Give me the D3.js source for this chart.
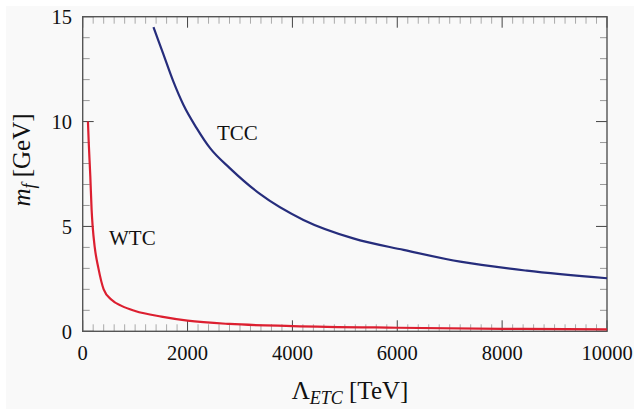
<!DOCTYPE html>
<html>
<head>
<meta charset="utf-8">
<script src="https://cdn.jsdelivr.net/npm/d3@7"></script>
<style>
  body { margin: 0; background: #fff; }
  text { font-family: "Liberation Serif", serif; fill: #111; }
</style>
</head>
<body>
<svg id="chart" width="634" height="409"></svg>
<script>
// values
var lambdaTCC = [1350, 1540, 1730, 1920, 2170, 2430, 2810, 3380, 4210, 5160, 6120, 7200, 8470, 10000]
var massTCC   = [14.5, 13.2, 11.9, 10.8, 9.7, 8.73, 7.77, 6.55, 5.31, 4.43, 3.88, 3.32, 2.89, 2.53]
var lambdaWTC = [100, 115, 145, 170, 190, 230, 300, 400, 550, 750, 1000, 1500, 2000, 2800, 4000, 6000, 8000, 10000]
var massWTC   = [10, 9, 7.4, 5.8, 5, 4, 3, 2, 1.5, 1.2, 0.97, 0.7, 0.51, 0.35, 0.25, 0.17, 0.12, 0.09]
var xTicks = [0, 2000, 4000, 6000, 8000, 10000]
var yTicks = [0, 5, 10, 15]

var svg = d3.select('#chart')
var pL = 82.7, pR = 607, pT = 16.7, pB = 331.3

svg.append('rect').attr('x', 6).attr('y', 6).attr('width', 628).attr('height', 403).attr('fill', '#f9f9f9')

var x = d3.scaleLinear().domain([0, 10000]).range([pL, pR])
var y = d3.scaleLinear().domain([0, 15]).range([pB, pT])

// minor ticks (all four sides, pointing inward)
var xMinor = d3.range(0, 10001, 200).filter(function(d){ return d % 2000 != 0 })
var yMinor = d3.range(0, 16, 1).filter(function(d){ return d % 5 != 0 })
var g = svg.append('g')
xMinor.forEach(function(d){
    g.append('line').attr('x1', x(d)).attr('x2', x(d)).attr('y1', pB).attr('y2', pB - 7).attr('stroke', '#aaa').attr('stroke-width', 1)
    g.append('line').attr('x1', x(d)).attr('x2', x(d)).attr('y1', pT).attr('y2', pT + 7).attr('stroke', '#aaa').attr('stroke-width', 1)
})
yMinor.forEach(function(d){
    g.append('line').attr('x1', pL).attr('x2', pL + 7).attr('y1', y(d)).attr('y2', y(d)).attr('stroke', '#999').attr('stroke-width', 1)
    g.append('line').attr('x1', pR).attr('x2', pR - 7).attr('y1', y(d)).attr('y2', y(d)).attr('stroke', '#999').attr('stroke-width', 1)
})
xTicks.forEach(function(d){
    g.append('line').attr('x1', x(d)).attr('x2', x(d)).attr('y1', pB).attr('y2', pB - 11).attr('stroke', '#444').attr('stroke-width', 1)
    g.append('line').attr('x1', x(d)).attr('x2', x(d)).attr('y1', pT).attr('y2', pT + 11).attr('stroke', '#444').attr('stroke-width', 1)
    g.append('text').attr('x', x(d)).attr('y', 360).attr('text-anchor', 'middle').style('font-size', '20.5px').text(d)
})
yTicks.forEach(function(d){
    g.append('line').attr('x1', pL).attr('x2', pL + 11).attr('y1', y(d)).attr('y2', y(d)).attr('stroke', '#444').attr('stroke-width', 1)
    g.append('line').attr('x1', pR).attr('x2', pR - 11).attr('y1', y(d)).attr('y2', y(d)).attr('stroke', '#444').attr('stroke-width', 1)
    g.append('text').attr('x', 72).attr('y', y(d) + 7.5).attr('text-anchor', 'end').style('font-size', '20.5px').text(d)
})

// frame
svg.append('rect').attr('x', pL).attr('y', pT).attr('width', pR - pL).attr('height', pB - pT)
    .attr('fill', 'none').attr('stroke', '#555').attr('stroke-width', 1.4)

// curves
var line = d3.line().x(function(d){ return x(d[0]) }).y(function(d){ return y(d[1]) }).curve(d3.curveMonotoneX)
svg.append('path').datum(d3.zip(lambdaTCC, massTCC)).attr('d', line)
    .attr('fill', 'none').attr('stroke', '#262d7c').attr('stroke-width', 2.2)
svg.append('path').datum(d3.zip(lambdaWTC, massWTC)).attr('d', line)
    .attr('fill', 'none').attr('stroke', '#dc1f30').attr('stroke-width', 2.2)

svg.append('text').attr('x', 217).attr('y', 140).style('font-size', '21px').text('TCC')
svg.append('text').attr('x', 109).attr('y', 245).style('font-size', '21px').text('WTC')

// axis titles
var xl = svg.append('text').attr('x', 350).attr('y', 399).attr('text-anchor', 'middle').style('font-size', '25px')
xl.append('tspan').text('Λ')
xl.append('tspan').attr('dy', 5).style('font-size', '18px').style('font-style', 'italic').text('ETC')
xl.append('tspan').attr('dy', -5).text(' [TeV]')

var yl = svg.append('text').attr('transform', 'translate(30,160) rotate(-90)').attr('text-anchor', 'middle').style('font-size', '25px')
yl.append('tspan').style('font-style', 'italic').text('m')
yl.append('tspan').attr('dy', 5).style('font-size', '18px').style('font-style', 'italic').text('f')
yl.append('tspan').attr('dy', -5).text(' [GeV]')
</script>
</body>
</html>
